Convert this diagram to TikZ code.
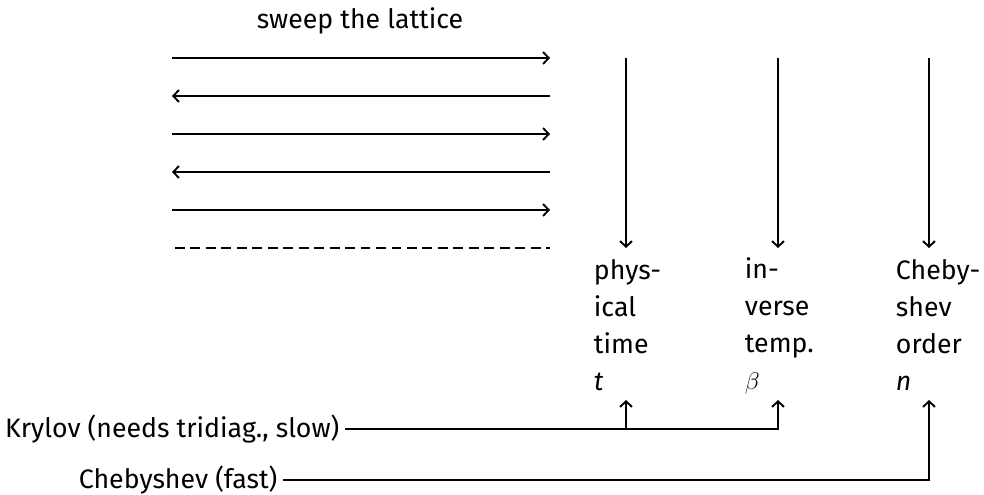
\documentclass[tikz,border=0pt]{standalone}
\usepackage{fontspec}
\setmainfont{Fira Sans}
\usetikzlibrary{positioning,arrows.meta}
\begin{document}
\begin{tikzpicture}[
                        x=0.025cm, y=-0.025cm,
                        >={Straight Barb[length=4pt,width=8.5pt]},
                        line width=1.35pt,
                        every node/.style={font=\fontsize{19}{26.3}\selectfont},
                        qty/.style={anchor=north west, align=left, inner sep=0pt}
                    ]
                    \useasboundingbox (0,0) rectangle (984,494);
                    % Sweeps
                    \node [anchor=base] (sweep) at (360,28) {sweep the lattice};
                    \coordinate (a1) at (172,58);  \coordinate (b1) at (550,58);
                    \coordinate (a2) at (172,96);  \coordinate (b2) at (550,96);
                    \coordinate (a3) at (172,134); \coordinate (b3) at (550,134);
                    \coordinate (a4) at (172,172); \coordinate (b4) at (550,172);
                    \coordinate (a5) at (172,210); \coordinate (b5) at (550,210);
                    \coordinate (a6) at (175,248); \coordinate (b6) at (550,248);

                    % Quantities
                    \node [qty] (time) at (593,259) {phys-\\ical\\time\\\textit{t}};
                    \node [qty] (temp) at (744,257) {in-\\verse\\temp.\\$\beta$};
                    \node [qty] (order) at (895,259) {Cheby-\\shev\\order\\\textit{n}};
                    \coordinate (ttop) at (626,58);  \coordinate (tbot) at (626,248);
                    \coordinate (btop) at (778,58);  \coordinate (bbot) at (778,248);
                    \coordinate (ntop) at (929,58);  \coordinate (nbot) at (929,248);
                    \coordinate (tup) at (626,400);
                    \coordinate (bup) at (778,400);
                    \coordinate (nup) at (929,400);

                    % Methods
                    \node [anchor=east] (krylov) at (345,429) {Krylov (needs tridiag., slow)};
                    \node [anchor=east] (cheb) at (283,480) {Chebyshev (fast)};

                    % Connections
                    \draw [->] (a1) -- (b1);
                    \draw [->] (b2) -- (a2);
                    \draw [->] (a3) -- (b3);
                    \draw [->] (b4) -- (a4);
                    \draw [->] (a5) -- (b5);
                    \draw [dash pattern=on 7pt off 4pt] (a6) -- (b6);
                    \draw [->] (ttop) -- (tbot);
                    \draw [->] (btop) -- (bbot);
                    \draw [->] (ntop) -- (nbot);
                    \draw [->] (krylov.east) -| (bup);
                    \draw [->] (krylov.east -| tup) -- (tup);
                    \draw [->] (cheb.east) -| (nup);
                \end{tikzpicture}
\end{document}
